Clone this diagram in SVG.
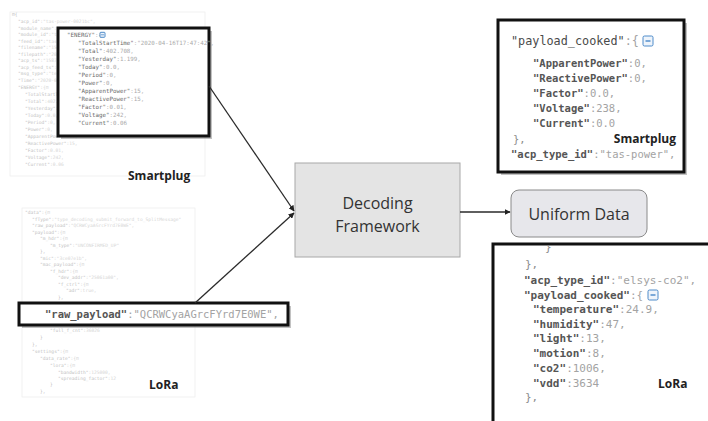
<svg xmlns="http://www.w3.org/2000/svg" width="708" height="421" viewBox="0 0 708 421">
<defs>
<marker id="ah" viewBox="0 0 10 10" refX="9" refY="5" markerWidth="6" markerHeight="6" orient="auto" markerUnits="userSpaceOnUse"><path d="M0,0 L10,5 L0,10 z" fill="#222"/></marker>
<clipPath id="cl"><rect x="494" y="245" width="214" height="176"/></clipPath>
<style>
.faint{font-family:"DejaVu Sans Mono",monospace;font-size:4.6px;fill:#c2c2c2}
.fv{fill:#d6d6d6}
.mono{font-family:"DejaVu Sans Mono","Liberation Mono",monospace}
.k{fill:#555;font-weight:bold}
.v{fill:#a3a3a3;font-weight:normal}
.sk{fill:#6a6a6a}
.sv{fill:#aaa}
.br{fill:#8c8c8c}
.lbl{font-family:"Open Sans","Liberation Sans",sans-serif;font-weight:bold;font-size:12px;fill:#222}
.node{font-family:"Open Sans","Liberation Sans",sans-serif;font-size:16px;fill:#333}
.box{fill:#fff;stroke:#111;stroke-width:3}
.sh{fill:#9a9a9a;opacity:0.6}
.conn{stroke:#2a2a2a;stroke-width:1.3;fill:none;marker-end:url(#ah)}
.ic{fill:#eef4fb;stroke:#3b7fc4;stroke-width:0.9}
</style>
</defs>
<rect width="708" height="421" fill="#fff"/>

<g id="smartplug-source">
<rect x="10" y="12" width="195" height="164" fill="#fff" stroke="#eee" stroke-width="0.8"/>
<g class="faint">
<text x="12" y="16">⊟{</text>
<text x="18" y="23">"acp_id"<tspan class="fv">:"tas-power-0021bc",</tspan></text>
<text x="18" y="29.5">"module_name"<tspan class="fv">:"tas-power",</tspan></text>
<text x="18" y="36">"module_id"<tspan class="fv">:"tas",</tspan></text>
<text x="18" y="42.5">"feed_id"<tspan class="fv">:"tas"</tspan></text>
<text x="18" y="49">"filename"<tspan class="fv">:"1587"</tspan></text>
<text x="18" y="55.5">"filepath"<tspan class="fv">:"2020"</tspan></text>
<text x="18" y="62">"acp_ts"<tspan class="fv">:"1587"</tspan></text>
<text x="18" y="68.5">"acp_feed_ts"<tspan class="fv">:"15"</tspan></text>
<text x="18" y="75">"msg_type"<tspan class="fv">:"te"</tspan></text>
<text x="18" y="82">"Time"<tspan class="fv">:"2020-04</tspan></text>
<text x="18" y="89">"ENERGY"<tspan class="fv">:{⊟</tspan></text>
<text x="25" y="96">"TotalStartTime"<tspan class="fv">:"20</tspan></text>
<text x="25" y="103">"Total"<tspan class="fv">:402.708,</tspan></text>
<text x="25" y="110">"Yesterday"<tspan class="fv">:1.199,</tspan></text>
<text x="25" y="117">"Today"<tspan class="fv">:0.0,</tspan></text>
<text x="25" y="124">"Period"<tspan class="fv">:0,</tspan></text>
<text x="25" y="131">"Power"<tspan class="fv">:0,</tspan></text>
<text x="25" y="138">"ApparentPower"<tspan class="fv">:15,</tspan></text>
<text x="25" y="145">"ReactivePower"<tspan class="fv">:15,</tspan></text>
<text x="25" y="152">"Factor"<tspan class="fv">:0.01,</tspan></text>
<text x="25" y="159">"Voltage"<tspan class="fv">:242,</tspan></text>
<text x="25" y="166">"Current"<tspan class="fv">:0.06</tspan></text>
</g>
<rect class="sh" x="61" y="31" width="151" height="108"/>
<rect class="box" x="58" y="28" width="151" height="108"/>
<g class="mono" font-size="5.8">
<text x="67" y="37"><tspan class="sk">"ENERGY"</tspan><tspan class="sv">:{</tspan></text>
<rect class="ic" x="100" y="32.3" width="5" height="5" rx="0.8"/><line x1="101" y1="34.8" x2="104" y2="34.8" stroke="#3b7fc4" stroke-width="0.7"/>
<text x="78" y="45"><tspan class="sk">"TotalStartTime"</tspan><tspan class="sv">:"2020-04-16T17:47:42",</tspan></text>
<text x="78" y="53"><tspan class="sk">"Total"</tspan><tspan class="sv">:402.708,</tspan></text>
<text x="78" y="61"><tspan class="sk">"Yesterday"</tspan><tspan class="sv">:1.199,</tspan></text>
<text x="78" y="69"><tspan class="sk">"Today"</tspan><tspan class="sv">:0.0,</tspan></text>
<text x="78" y="77"><tspan class="sk">"Period"</tspan><tspan class="sv">:0,</tspan></text>
<text x="78" y="85"><tspan class="sk">"Power"</tspan><tspan class="sv">:0,</tspan></text>
<text x="78" y="93"><tspan class="sk">"ApparentPower"</tspan><tspan class="sv">:15,</tspan></text>
<text x="78" y="101"><tspan class="sk">"ReactivePower"</tspan><tspan class="sv">:15,</tspan></text>
<text x="78" y="109"><tspan class="sk">"Factor"</tspan><tspan class="sv">:0.01,</tspan></text>
<text x="78" y="117"><tspan class="sk">"Voltage"</tspan><tspan class="sv">:242,</tspan></text>
<text x="78" y="125"><tspan class="sk">"Current"</tspan><tspan class="sv">:0.06</tspan></text>
</g>
<text class="lbl" x="128" y="180">Smartplug</text>
</g>

<g id="lora-source">
<rect x="22" y="208" width="173" height="189" fill="#fff" stroke="#eee" stroke-width="0.8"/>
<g class="faint">
<text x="25" y="214">"data"<tspan class="fv">:{⊟</tspan></text>
<text x="32" y="220.5">"fType"<tspan class="fv">:"type_decoding_submit_forward_to_SplitMessage"</tspan></text>
<text x="32" y="227">"raw_payload"<tspan class="fv">:"QCRWCyaAGrcFYrd7E0WE",</tspan></text>
<text x="32" y="233.5">"payload"<tspan class="fv">:{⊟</tspan></text>
<text x="40" y="240">"m_hdr"<tspan class="fv">:{⊟</tspan></text>
<text x="50" y="246.5">"m_type"<tspan class="fv">:"UNCONFIRMED_UP"</tspan></text>
<text x="40" y="253">},</text>
<text x="40" y="259.5">"mic"<tspan class="fv">:"3ce07e1b",</tspan></text>
<text x="40" y="266">"mac_payload"<tspan class="fv">:{⊟</tspan></text>
<text x="50" y="272.5">"f_hdr"<tspan class="fv">:{⊟</tspan></text>
<text x="58" y="279">"dev_addr"<tspan class="fv">:"25061a00",</tspan></text>
<text x="58" y="285.5">"f_ctrl"<tspan class="fv">:{⊟</tspan></text>
<text x="66" y="292">"adr"<tspan class="fv">:true,</tspan></text>
<text x="58" y="298.5">},</text>
<text x="50" y="325">"f_port"<tspan class="fv">:5,</tspan></text>
<text x="50" y="332">"full_f_cnt"<tspan class="fv">:36026</tspan></text>
<text x="40" y="339">}</text>
<text x="32" y="346">},</text>
<text x="32" y="353">"settings"<tspan class="fv">:{⊟</tspan></text>
<text x="40" y="360">"data_rate"<tspan class="fv">:{⊟</tspan></text>
<text x="50" y="367">"lora"<tspan class="fv">:{⊟</tspan></text>
<text x="58" y="373.5">"bandwidth"<tspan class="fv">:125000,</tspan></text>
<text x="58" y="380">"spreading_factor"<tspan class="fv">:12</tspan></text>
<text x="50" y="386">}</text>
<text x="40" y="392.5">},</text>
</g>
<rect class="sh" x="22" y="306" width="269" height="22"/>
<rect class="box" x="19" y="303" width="269" height="22"/>
<text class="mono" font-size="10.5" x="45" y="318"><tspan class="k">"raw_payload"</tspan><tspan class="v">:"QCRWCyaAGrcFYrd7E0WE",</tspan></text>
<text class="lbl" x="149" y="389">LoRa</text>
</g>

<g id="decoding-framework">
<rect x="295" y="163" width="165" height="94" fill="#e4e4e4" stroke="#a8a8a8" stroke-width="1"/>
<text class="node" x="377.5" y="209" text-anchor="middle">Decoding</text>
<text class="node" x="377.5" y="232" text-anchor="middle">Framework</text>
</g>

<g id="uniform-data">
<rect x="511" y="190" width="136" height="47" rx="8" fill="#e7e7eb" stroke="#8a8a8a" stroke-width="1"/>
<text class="node" x="579" y="220" text-anchor="middle">Uniform Data</text>
</g>

<g id="smartplug-cooked">
<rect class="sh" x="501" y="23" width="186" height="152"/>
<rect class="box" x="498" y="20" width="186" height="152" stroke-width="2.5"/>
<text class="mono" font-size="11.8" x="511" y="45"><tspan fill="#4a4a4a">"payload_cooked"</tspan><tspan class="v">:{</tspan></text>
<rect class="ic" x="643" y="36" width="10" height="10" rx="1.5" stroke-width="1.4"/><line x1="645.5" y1="41" x2="650.5" y2="41" stroke="#3b7fc4" stroke-width="1.3"/>
<g class="mono" font-size="10.5">
<text x="533" y="67"><tspan class="k">"ApparentPower"</tspan><tspan class="v">:0,</tspan></text>
<text x="533" y="82"><tspan class="k">"ReactivePower"</tspan><tspan class="v">:0,</tspan></text>
<text x="533" y="97"><tspan class="k">"Factor"</tspan><tspan class="v">:0.0,</tspan></text>
<text x="533" y="112"><tspan class="k">"Voltage"</tspan><tspan class="v">:238,</tspan></text>
<text x="533" y="127"><tspan class="k">"Current"</tspan><tspan class="v">:0.0</tspan></text>
<text x="513" y="143" class="br">},</text>
<text x="511" y="158"><tspan class="k">"acp_type_id"</tspan><tspan class="v">:"tas-power",</tspan></text>
</g>
<text class="lbl" x="676" y="143" text-anchor="end">Smartplug</text>
</g>

<g id="lora-cooked">
<rect class="sh" x="496" y="247" width="220" height="180"/>
<rect class="box" x="493" y="244" width="220" height="180" stroke-width="2.5"/>
<g class="mono" font-size="11" clip-path="url(#cl)">
<text x="545" y="251" class="br">}</text>
<text x="525" y="268" class="br">},</text>
<text x="524" y="284"><tspan class="k">"acp_type_id"</tspan><tspan class="v">:"elsys-co2",</tspan></text>
<text x="524" y="299"><tspan class="k">"payload_cooked"</tspan><tspan class="v">:{</tspan></text>
<text x="533" y="313"><tspan class="k">"temperature"</tspan><tspan class="v">:24.9,</tspan></text>
<text x="533" y="327.5"><tspan class="k">"humidity"</tspan><tspan class="v">:47,</tspan></text>
<text x="533" y="342"><tspan class="k">"light"</tspan><tspan class="v">:13,</tspan></text>
<text x="533" y="357"><tspan class="k">"motion"</tspan><tspan class="v">:8,</tspan></text>
<text x="533" y="372"><tspan class="k">"co2"</tspan><tspan class="v">:1006,</tspan></text>
<text x="533" y="386.5"><tspan class="k">"vdd"</tspan><tspan class="v">:3634</tspan></text>
<text x="525" y="401" class="br">},</text>
</g>
<rect class="ic" x="648" y="290" width="10" height="10" rx="1.5" stroke-width="1.4"/><line x1="650.5" y1="295" x2="655.5" y2="295" stroke="#3b7fc4" stroke-width="1.3"/>
<text class="lbl" x="658" y="388">LoRa</text>
</g>

<g id="connectors">
<path class="conn" d="M209,86 L294,211"/>
<path class="conn" d="M195,303 L294,213"/>
<path class="conn" d="M460,212 L510,212"/>
</g>
</svg>
